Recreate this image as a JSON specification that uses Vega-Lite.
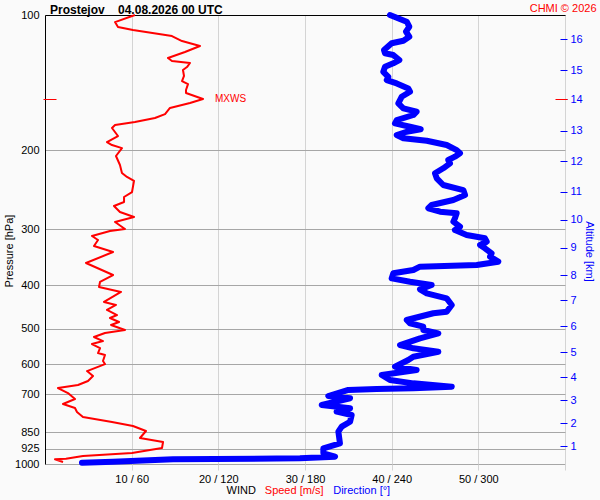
{
  "$schema": "https://vega.github.io/schema/vega-lite/v6.json",
  "width": 520,
  "height": 449,
  "autosize": {"type": "none"},
  "padding": {"left": 45, "top": 15, "right": 35, "bottom": 36},
  "background": "#fafafa",
  "title": {
    "text": "Prostejov\u00a0\u00a0\u00a0\u00a004.08.2026 00 UTC",
    "anchor": "start",
    "frame": "group",
    "dx": 5,
    "dy": 16,
    "offset": 2,
    "fontSize": 12,
    "fontWeight": "bold",
    "font": "Liberation Sans",
    "color": "#000000"
  },
  "config": {
    "font": "Liberation Sans",
    "view": {"stroke": null},
    "axis": {"labelFont": "Liberation Sans", "titleFont": "Liberation Sans"}
  },
  "datasets": {
    "speed": [
      {"p": 100.0, "spd": 10.38}, {"p": 103.7, "spd": 8.08}, {"p": 106.3, "spd": 8.42}, {"p": 108.0, "spd": 10.15},
      {"p": 111.4, "spd": 14.65}, {"p": 114.3, "spd": 15.81}, {"p": 117.2, "spd": 17.88}, {"p": 120.9, "spd": 16.15},
      {"p": 124.7, "spd": 14.19}, {"p": 126.6, "spd": 14.65}, {"p": 127.9, "spd": 16.73}, {"p": 130.6, "spd": 16.38},
      {"p": 132.6, "spd": 15.92}, {"p": 136.7, "spd": 16.04}, {"p": 140.3, "spd": 15.81}, {"p": 142.5, "spd": 16.5},
      {"p": 146.9, "spd": 16.27}, {"p": 149.2, "spd": 16.27}, {"p": 153.8, "spd": 18.23}, {"p": 157.0, "spd": 16.73},
      {"p": 161.1, "spd": 14.42}, {"p": 166.2, "spd": 13.85}, {"p": 169.6, "spd": 12.69}, {"p": 173.1, "spd": 10.38},
      {"p": 175.8, "spd": 8.08}, {"p": 178.5, "spd": 7.73}, {"p": 186.0, "spd": 8.42}, {"p": 191.9, "spd": 7.15},
      {"p": 194.8, "spd": 7.73}, {"p": 197.9, "spd": 8.88}, {"p": 206.1, "spd": 8.19}, {"p": 215.8, "spd": 8.65},
      {"p": 224.8, "spd": 8.88}, {"p": 229.5, "spd": 9.46}, {"p": 234.2, "spd": 10.27}, {"p": 247.9, "spd": 10.04},
      {"p": 254.3, "spd": 9.12}, {"p": 260.9, "spd": 9.12}, {"p": 266.3, "spd": 7.96}, {"p": 274.7, "spd": 8.65},
      {"p": 281.8, "spd": 10.27}, {"p": 289.1, "spd": 8.08}, {"p": 299.6, "spd": 9.23}, {"p": 302.7, "spd": 7.5},
      {"p": 310.6, "spd": 5.42}, {"p": 317.0, "spd": 6.12}, {"p": 326.9, "spd": 5.65}, {"p": 337.2, "spd": 7.85},
      {"p": 356.7, "spd": 4.73}, {"p": 379.4, "spd": 7.85}, {"p": 393.2, "spd": 6.35}, {"p": 403.4, "spd": 6.23},
      {"p": 413.9, "spd": 8.77}, {"p": 435.6, "spd": 6.81}, {"p": 442.4, "spd": 8.19}, {"p": 453.9, "spd": 7.15},
      {"p": 465.8, "spd": 8.31}, {"p": 473.0, "spd": 7.5}, {"p": 482.8, "spd": 8.54}, {"p": 490.2, "spd": 7.62},
      {"p": 503.0, "spd": 9.23}, {"p": 510.8, "spd": 6.92}, {"p": 521.4, "spd": 5.65}, {"p": 532.3, "spd": 6.69},
      {"p": 540.5, "spd": 5.42}, {"p": 551.7, "spd": 6.35}, {"p": 566.0, "spd": 6.12}, {"p": 571.9, "spd": 6.92},
      {"p": 589.8, "spd": 6.69}, {"p": 599.0, "spd": 6.92}, {"p": 620.9, "spd": 4.85}, {"p": 637.0, "spd": 5.54},
      {"p": 653.4, "spd": 4.96}, {"p": 667.0, "spd": 3.81}, {"p": 677.3, "spd": 1.5}, {"p": 694.9, "spd": 2.65},
      {"p": 716.5, "spd": 3.46}, {"p": 735.2, "spd": 2.08}, {"p": 750.4, "spd": 3.46}, {"p": 766.0, "spd": 3.69},
      {"p": 785.9, "spd": 4.38}, {"p": 806.3, "spd": 7.73}, {"p": 823.0, "spd": 10.15}, {"p": 844.4, "spd": 11.65},
      {"p": 875.2, "spd": 10.96}, {"p": 893.3, "spd": 13.62}, {"p": 921.2, "spd": 13.5}, {"p": 945.0, "spd": 10.04},
      {"p": 959.8, "spd": 4.38}, {"p": 973.2, "spd": 2.42}, {"p": 976.2, "spd": 1.15}, {"p": 989.8, "spd": 2.08}
    ],
    "direction": [
      {"p": 100.0, "dir": 238.8}, {"p": 103.5, "dir": 250.4}, {"p": 106.2, "dir": 252.2}, {"p": 108.9, "dir": 249.9},
      {"p": 111.8, "dir": 252.2}, {"p": 114.1, "dir": 248.1}, {"p": 115.6, "dir": 240.0}, {"p": 119.7, "dir": 234.7},
      {"p": 121.7, "dir": 235.4}, {"p": 122.8, "dir": 241.1}, {"p": 126.0, "dir": 245.3}, {"p": 128.1, "dir": 241.1},
      {"p": 130.4, "dir": 235.4}, {"p": 133.8, "dir": 234.2}, {"p": 137.3, "dir": 237.7}, {"p": 139.6, "dir": 236.6},
      {"p": 142.0, "dir": 243.5}, {"p": 145.7, "dir": 251.5}, {"p": 148.2, "dir": 252.7}, {"p": 152.1, "dir": 246.9},
      {"p": 157.3, "dir": 244.6}, {"p": 161.4, "dir": 248.1}, {"p": 164.2, "dir": 257.3}, {"p": 167.0, "dir": 255.0},
      {"p": 171.4, "dir": 243.5}, {"p": 174.3, "dir": 242.3}, {"p": 177.4, "dir": 252.7}, {"p": 179.7, "dir": 260.1},
      {"p": 182.0, "dir": 250.4}, {"p": 185.1, "dir": 243.5}, {"p": 188.2, "dir": 248.1}, {"p": 190.6, "dir": 264.3},
      {"p": 194.8, "dir": 278.1}, {"p": 199.9, "dir": 285.0}, {"p": 203.2, "dir": 287.3}, {"p": 206.8, "dir": 283.8},
      {"p": 210.4, "dir": 279.2}, {"p": 214.0, "dir": 280.4}, {"p": 219.5, "dir": 275.7}, {"p": 225.2, "dir": 270.0},
      {"p": 231.1, "dir": 271.2}, {"p": 239.1, "dir": 275.7}, {"p": 245.4, "dir": 289.6}, {"p": 251.7, "dir": 290.8},
      {"p": 258.2, "dir": 282.7}, {"p": 264.9, "dir": 267.7}, {"p": 269.4, "dir": 265.4}, {"p": 274.2, "dir": 273.5},
      {"p": 276.5, "dir": 285.0}, {"p": 283.6, "dir": 283.8}, {"p": 288.6, "dir": 282.7}, {"p": 296.1, "dir": 287.3},
      {"p": 301.2, "dir": 283.8}, {"p": 309.0, "dir": 291.9}, {"p": 314.3, "dir": 304.6}, {"p": 319.8, "dir": 305.8},
      {"p": 325.2, "dir": 301.2}, {"p": 330.8, "dir": 304.6}, {"p": 339.4, "dir": 309.2}, {"p": 345.3, "dir": 308.1},
      {"p": 354.3, "dir": 313.8}, {"p": 360.4, "dir": 298.9}, {"p": 363.5, "dir": 259.6}, {"p": 369.8, "dir": 255.0},
      {"p": 376.1, "dir": 241.1}, {"p": 385.9, "dir": 240.0}, {"p": 392.6, "dir": 252.7}, {"p": 399.3, "dir": 267.7},
      {"p": 408.3, "dir": 259.6}, {"p": 416.7, "dir": 264.3}, {"p": 427.6, "dir": 278.1}, {"p": 442.4, "dir": 281.6},
      {"p": 457.9, "dir": 278.1}, {"p": 461.6, "dir": 268.8}, {"p": 477.8, "dir": 250.4}, {"p": 485.9, "dir": 252.7},
      {"p": 494.5, "dir": 261.9}, {"p": 503.0, "dir": 261.9}, {"p": 511.6, "dir": 272.3}, {"p": 524.9, "dir": 259.6},
      {"p": 543.3, "dir": 245.8}, {"p": 552.6, "dir": 255.0}, {"p": 562.3, "dir": 272.3}, {"p": 576.8, "dir": 255.0},
      {"p": 586.6, "dir": 251.5}, {"p": 607.1, "dir": 242.3}, {"p": 617.5, "dir": 257.3}, {"p": 633.6, "dir": 233.1},
      {"p": 650.1, "dir": 238.8}, {"p": 661.3, "dir": 255.0}, {"p": 672.8, "dir": 281.6}, {"p": 678.4, "dir": 255.0},
      {"p": 680.8, "dir": 229.6}, {"p": 684.2, "dir": 210.0}, {"p": 705.6, "dir": 196.1}, {"p": 713.9, "dir": 211.2},
      {"p": 738.9, "dir": 191.6}, {"p": 751.6, "dir": 211.2}, {"p": 764.7, "dir": 201.9}, {"p": 778.0, "dir": 212.3},
      {"p": 805.0, "dir": 211.2}, {"p": 825.9, "dir": 205.4}, {"p": 847.4, "dir": 203.1}, {"p": 899.3, "dir": 204.2},
      {"p": 922.6, "dir": 192.7}, {"p": 946.6, "dir": 192.7}, {"p": 963.2, "dir": 200.8}, {"p": 971.2, "dir": 176.5},
      {"p": 976.2, "dir": 88.6}, {"p": 988.3, "dir": 47.1}, {"p": 993.4, "dir": 25.6}
    ],
    "mxws": [
      {"p": 153.8, "spd": 18.23, "label": "MXWS"}
    ]
  },
  "layer": [
    {
      "data": {"name": "speed"},
      "mark": {"type": "line", "color": "#ff0000", "strokeWidth": 2, "strokeJoin": "round"},
      "encoding": {
        "x": {
          "field": "spd", "type": "quantitative",
          "scale": {"domain": [0, 60], "nice": false, "zero": false},
          "axis": {
            "orient": "bottom", "values": [10, 20, 30, 40, 50, 60],
            "labelExpr": "datum.value < 60 ? datum.value + ' / ' + datum.value * 6 : ''",
            "labelFontSize": 11, "labelColor": "#000000", "labelPadding": 3, "labelFlush": false, "labelOverlap": false,
            "domain": false, "ticks": true, "tickColor": "#d4d4d4", "tickSize": 6,
            "grid": true, "gridColor": "#d4d4d4", "gridWidth": 1,
            "title": "WIND", "titleFontSize": 11, "titleFontWeight": "normal", "titleColor": "#000000",
            "titleAlign": "left", "titleBaseline": "alphabetic", "titleX": 181, "titleY": 29.5
          }
        },
        "y": {
          "field": "p", "type": "quantitative",
          "scale": {"type": "log", "domain": [100, 1000], "reverse": true, "nice": false},
          "axis": {
            "orient": "left", "values": [100, 200, 300, 400, 500, 600, 700, 850, 925, 1000], "format": "d",
            "labelFontSize": 11, "labelColor": "#000000", "labelPadding": 6, "labelOverlap": false, "labelBound": false,
            "ticks": false, "tickSize": 0, "domain": true, "domainColor": "#000000", "domainWidth": 1,
            "grid": true, "gridColor": "#a6a6a6", "gridWidth": 1,
            "title": "Pressure [hPa]", "titleFontSize": 11, "titleFontWeight": "normal", "titleColor": "#000000",
            "titleAngle": -90, "titleAlign": "center", "titleBaseline": "alphabetic", "titleX": -33, "titleY": 235.5
          }
        },
        "order": {"field": "p", "type": "quantitative"}
      }
    },
    {
      "data": {"name": "direction"},
      "mark": {"type": "line", "color": "#0000ff", "strokeWidth": 6, "strokeCap": "round", "strokeJoin": "round"},
      "encoding": {
        "x": {
          "field": "dir", "type": "quantitative",
          "scale": {"domain": [0, 360], "nice": false, "zero": false},
          "axis": {
            "orient": "top", "labels": false, "ticks": false, "grid": false,
            "domain": true, "domainColor": "#000000", "domainWidth": 1,
            "title": "CHMI © 2026", "titleColor": "#ff0000", "titleFontSize": 11, "titleFontWeight": "normal",
            "titleAlign": "right", "titleBaseline": "alphabetic", "titleX": 551, "titleY": -3.5
          }
        },
        "y": {
          "field": "p", "type": "quantitative",
          "axis": {
            "orient": "right", "offset": -5,
            "values": [911.9, 811.8, 720.3, 640.1, 563.1, 492.8, 431.3, 379.4, 329.8, 286.1, 247.5, 211.5, 181, 154, 132.6, 113.1],
            "labelExpr": "indexof([911.9, 811.8, 720.3, 640.1, 563.1, 492.8, 431.3, 379.4, 329.8, 286.1, 247.5, 211.5, 181, 154, 132.6, 113.1], datum.value) + 1",
            "labelColor": "#0000ff", "labelFontSize": 11, "labelPadding": 3, "labelOverlap": false, "labelBound": false,
            "tickColor": "#0000ff", "tickSize": 7, "domain": false, "grid": false,
            "title": "Altitude [km]", "titleColor": "#0000ff", "titleFontSize": 11, "titleFontWeight": "normal",
            "titleAngle": 90, "titleAlign": "center", "titleBaseline": "alphabetic", "titleX": 25, "titleY": 236
          }
        },
        "order": {"field": "p", "type": "quantitative"}
      }
    },
    {
      "data": {"name": "mxws"},
      "mark": {"type": "text", "color": "#ff0000", "fontSize": 10, "align": "left", "baseline": "middle", "dx": 12},
      "encoding": {
        "x": {
          "field": "spd", "type": "quantitative",
          "scale": {"domain": [0, 60], "nice": false, "zero": false},
          "axis": {
            "orient": "bottom", "labels": false, "ticks": false, "grid": false, "domain": false,
            "title": "Speed [m/s]", "titleColor": "#ff0000", "titleFontSize": 11, "titleFontWeight": "normal",
            "titleAlign": "left", "titleBaseline": "alphabetic", "titleX": 219.3, "titleY": 29.5
          }
        },
        "y": {
          "field": "p", "type": "quantitative",
          "axis": {
            "orient": "left", "offset": -11, "values": [153.8], "labels": false,
            "ticks": true, "tickColor": "#ff0000", "tickSize": 13, "domain": false, "grid": false, "title": null
          }
        },
        "text": {"field": "label"}
      }
    },
    {
      "data": {"name": "mxws"},
      "mark": {"type": "point", "opacity": 0},
      "encoding": {
        "x": {
          "field": "spd", "type": "quantitative",
          "scale": {"domain": [0, 60], "nice": false, "zero": false},
          "axis": {
            "orient": "bottom", "labels": false, "ticks": false, "grid": false, "domain": false,
            "title": "Direction [°]", "titleColor": "#0000ff", "titleFontSize": 11, "titleFontWeight": "normal",
            "titleAlign": "left", "titleBaseline": "alphabetic", "titleX": 287.7, "titleY": 29.5
          }
        },
        "y": {
          "field": "p", "type": "quantitative",
          "axis": {
            "orient": "right", "offset": -10, "values": [153.8], "labels": false, "zindex": 1,
            "ticks": true, "tickColor": "#ff0000", "tickSize": 12, "domain": false, "grid": false, "title": null
          }
        }
      }
    }
  ],
  "resolve": {
    "scale": {"x": "independent", "y": "shared"},
    "axis": {"x": "independent", "y": "independent"}
  }
}
